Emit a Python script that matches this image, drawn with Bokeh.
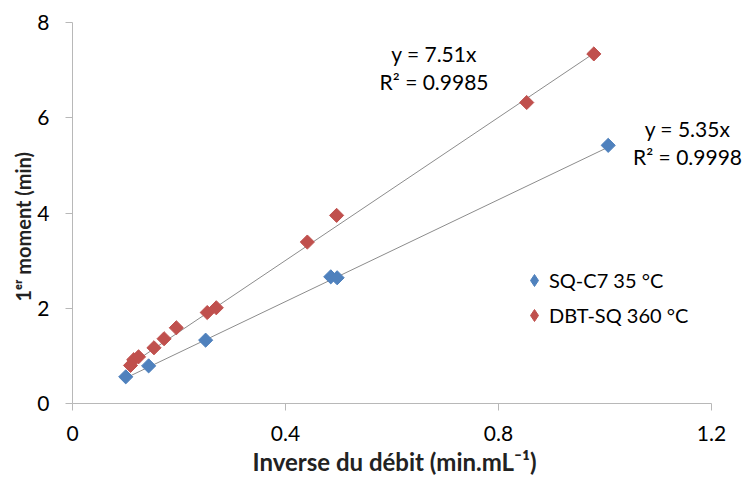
from bokeh.plotting import figure
from bokeh.models import Range1d, FixedTicker, Legend, LegendItem, Label, Title
from bokeh.embed import file_html
from bokeh.resources import INLINE

# Data
sq_x = [0.100, 0.143, 0.250, 0.485, 0.497, 1.006]
sq_y = [0.56, 0.79, 1.33, 2.66, 2.64, 5.42]
dbt_x = [0.109, 0.115, 0.124, 0.153, 0.172, 0.195, 0.253, 0.270, 0.441, 0.496, 0.853, 0.979]
dbt_y = [0.80, 0.92, 0.98, 1.17, 1.36, 1.59, 1.91, 2.01, 3.39, 3.95, 6.32, 7.34]
series_names = ["SQ-C7 35 °C", "DBT-SQ 360 °C"]
slopes = [5.35, 7.51]
r2 = ["0.9998", "0.9985"]
x_ticks = [0, 0.4, 0.8, 1.2]
y_ticks = [0, 2, 4, 6, 8]
x_title = "Inverse du débit (min.mL⁻¹)"
y_title = "1ᵉʳ moment (min)"

BLUE = "#4F81BD"
RED = "#C0504D"
FONT = "Lato"

W, H = 742, 476
LEFT, TOP, BOTTOM = 72, 22, 72
AXIS_PX = 639  # pixel length of the 0..1.2 axis
x_end = 1.2 * (W - LEFT) / AXIS_PX

p = figure(width=W, height=H, output_backend="svg", toolbar_location=None,
           x_range=Range1d(0, x_end), y_range=Range1d(0, 8),
           min_border_left=LEFT, min_border_right=0, min_border_top=TOP, min_border_bottom=BOTTOM)
p.outline_line_color = None
p.xgrid.visible = False
p.ygrid.visible = False
p.background_fill_color = "white"
p.border_fill_color = "white"

for ax in (p.xaxis[0], p.yaxis[0]):
    ax.axis_line_color = "#b8b8b8"
    ax.major_tick_line_color = "#b8b8b8"
    ax.minor_tick_line_color = None
    ax.major_tick_in = 0
    ax.major_tick_out = 7
    ax.major_label_text_font = FONT
    ax.major_label_text_font_size = "21px"
    ax.major_label_text_color = "black"

p.xaxis.bounds = (0, 1.2)
p.xaxis.ticker = FixedTicker(ticks=x_ticks)
p.yaxis.ticker = FixedTicker(ticks=y_ticks)
p.xaxis.major_label_overrides = {0: "0", 0.4: "0.4", 0.8: "0.8", 1.2: "1.2"}
p.xaxis.major_label_standoff = 15
p.yaxis.major_label_standoff = 16

# axis titles (placed as titles so they can be centred on the 0..1.2 span)
p.add_layout(Title(text=x_title, align="left", offset=180, standoff=2,
                   text_font=FONT, text_font_style="bold", text_font_size="24px",
                   text_color="#222222"), "below")
p.add_layout(Title(text=y_title, align="left", offset=102, standoff=0,
                   text_font=FONT, text_font_style="bold", text_font_size="20px",
                   text_color="#222222"), "left")

# trend lines through origin over data range
for xs, s in ((sq_x, slopes[0]), (dbt_x, slopes[1])):
    x0, x1 = min(xs), max(xs)
    p.line([x0, x1], [s * x0, s * x1], line_color="#8c8c8c", line_width=1)

p.scatter(sq_x, sq_y, marker="square", size=10, angle=0.785398,
          fill_color=BLUE, line_color=BLUE)
p.scatter(dbt_x, dbt_y, marker="square", size=10, angle=0.785398,
          fill_color=RED, line_color=RED)

# legend proxies (diamond swatches), no visible data point
nan = float("nan")
lg_sq = p.scatter(x=[nan], y=[nan], marker="diamond", fill_color=BLUE, line_color=BLUE)
lg_dbt = p.scatter(x=[nan], y=[nan], marker="diamond", fill_color=RED, line_color=RED)

legend = Legend(items=[LegendItem(label=series_names[0], renderers=[lg_sq], index=0),
                       LegendItem(label=series_names[1], renderers=[lg_dbt], index=0)],
                location=(447, 73), border_line_color=None, background_fill_alpha=0,
                padding=0, margin=0, spacing=5, glyph_width=30, glyph_height=30,
                label_height=20, label_standoff=0,
                label_text_font=FONT, label_text_font_size="20px", label_text_color="black")
p.add_layout(legend, "center")

eq_style = dict(text_font=FONT, text_font_size="21px", text_color="black",
                text_align="center", text_baseline="middle")
p.add_layout(Label(x=0.679, y=7.34, text=f"y = {slopes[1]}x", **eq_style))
p.add_layout(Label(x=0.679, y=6.77, text=f"R² = {r2[1]}", **eq_style))
p.add_layout(Label(x=1.155, y=5.77, text=f"y = {slopes[0]}x", **eq_style))
p.add_layout(Label(x=1.155, y=5.18, text=f"R² = {r2[0]}", **eq_style))

open("out.html", "w").write(file_html(p, INLINE))
